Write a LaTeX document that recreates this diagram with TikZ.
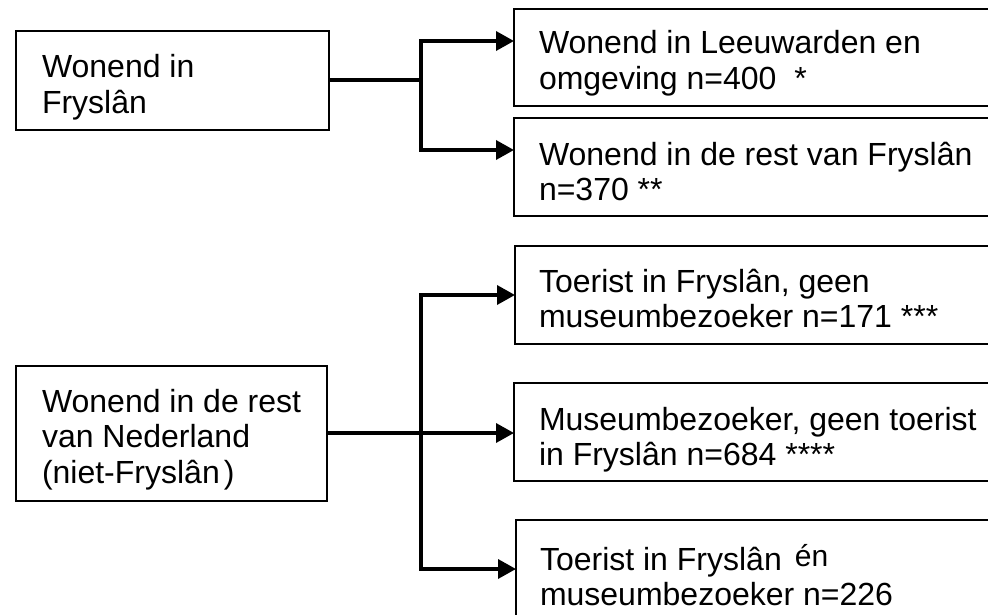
\documentclass[tikz,border=0pt]{standalone}
\usepackage{fontspec}
\setmainfont{Liberation Sans}
\usetikzlibrary{arrows.meta}
\newcommand{\mylines}[1]{\vtop{\fontsize{32}{35.5}\selectfont\halign{##\hfil\cr#1\crcr}}}
\begin{document}
\begin{tikzpicture}[x=1pt,y=-1pt,
  boxstyle/.style={draw=black, line width=2pt},
  txt/.style={anchor=base west, inner sep=0pt, outer sep=0pt},
  conn/.style={line width=3.5pt},
  arr/.style={line width=3.5pt, -{Triangle[length=18pt,width=19pt]}}]
\useasboundingbox (0,0) rectangle (988,615);
\clip (0,0) rectangle (988,615);
\fill[white] (0,0) rectangle (988,615);
% left boxes
\draw[boxstyle] (16,31) rectangle (329,130);
\coordinate (aE) at (329,80);
\draw[boxstyle] (16,366) rectangle (327,501);
\coordinate (bE) at (327,433);
% right boxes
\draw[boxstyle] (514,9) rectangle (1000,106);
\draw[boxstyle] (514,118) rectangle (1000,216);
\draw[boxstyle] (515,246) rectangle (1000,344);
\draw[boxstyle] (514,383) rectangle (1000,481);
\draw[boxstyle] (516,520) rectangle (1000,640);
\coordinate (r1) at (514,41);
\coordinate (r2) at (514,150);
\coordinate (r3) at (515,295);
\coordinate (r4) at (514,433);
\coordinate (r5) at (516,569);
% junctions
\coordinate (ja) at (421,80);
\coordinate (ja1) at (421,41);
\coordinate (ja2) at (421,150);
\coordinate (jb) at (421,433);
\coordinate (jb1) at (421,295);
\coordinate (jb3) at (421,569);
% connectors
\draw[conn] (aE) -- (ja);
\draw[conn, line cap=rect] (ja1) -- (ja2);
\draw[arr] (ja1) -- (r1);
\draw[arr] (ja2) -- (r2);
\draw[conn] (bE) -- (jb);
\draw[conn, line cap=rect] (jb1) -- (jb3);
\draw[arr] (jb1) -- (r3);
\draw[arr] (jb) -- (r4);
\draw[arr] (jb3) -- (r5);
% texts
\node[txt] (tA) at (42,78) {\mylines{Wonend in\cr Fryslân}};
\node[txt] (tB) at (42,412) {\mylines{Wonend in de rest\cr van Nederland\cr (niet-Fryslân\hspace{4pt})}};
\node[txt] (t1) at (539,54) {\mylines{Wonend in Leeuwarden en\cr omgeving n=400\hspace{18pt}*}};
\node[txt] (t2) at (539,165) {\mylines{Wonend in de rest van Fryslân\cr n=370 **}};
\node[txt] (t3) at (539,292) {\mylines{Toerist in Fryslân, geen\cr museumbezoeker n=171 ***}};
\node[txt] (t4) at (539,430) {\mylines{Museumbezoeker, geen toerist\cr in Fryslân n=684 ****}};
\node[txt] (t5) at (540,570) {\mylines{Toerist in Fryslân\hspace{13pt}\raisebox{4pt}{\fontsize{30}{32}\selectfont én}\cr museumbezoeker n=226}};
\end{tikzpicture}
\end{document}
